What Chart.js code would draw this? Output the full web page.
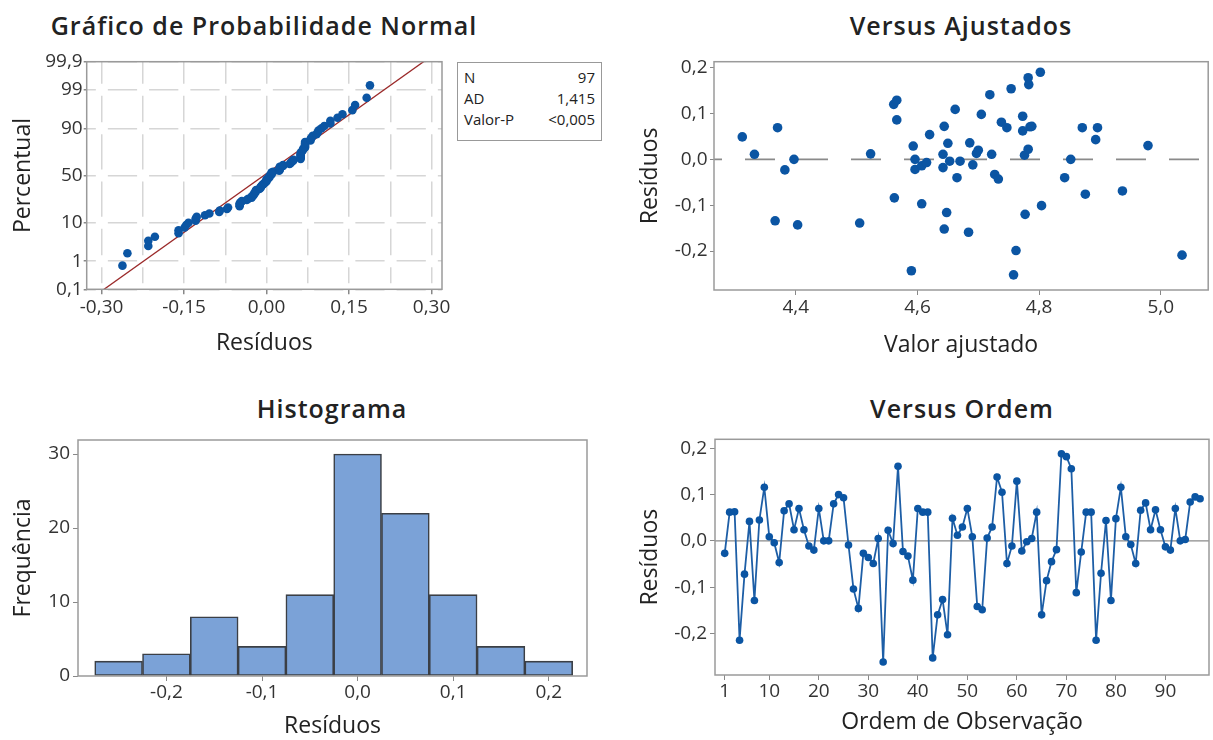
<!DOCTYPE html>
<html>
<head>
<meta charset="utf-8">
<script src="https://cdn.jsdelivr.net/npm/chart.js@4.4.1/dist/chart.umd.min.js"></script>
<style>
  body { margin: 0; background: #fff; width: 1213px; height: 740px; position: relative; overflow: hidden;
         font-family: 'Open Sans', 'Noto Sans', sans-serif; color: #222; }
  canvas { position: absolute; }
  .ttl { position: absolute; transform: translate(-50%, -50%); font-size: 25px; font-weight: 600;
         white-space: nowrap; letter-spacing: 1px; color: #222; }
  #stats { position: absolute; left: 457px; top: 62px; width: 131px; height: 70px; border: 1px solid #999;
           padding: 4px 6px 3px 6px; font-size: 15px; line-height: 21px; color: #222; }
  #stats div { display: flex; justify-content: space-between; }
</style>
</head>
<body>
<div class="ttl" style="left:264px;top:25px">Gráfico de Probabilidade Normal</div>
<div class="ttl" style="left:961px;top:25px">Versus Ajustados</div>
<div class="ttl" style="left:332px;top:408px">Histograma</div>
<div class="ttl" style="left:962px;top:408px">Versus Ordem</div>
<div id="stats"></div>

<canvas id="normChart" width="452" height="330" style="left:0;top:40px"></canvas>
<canvas id="fitChart" width="613" height="330" style="left:600px;top:40px"></canvas>
<canvas id="histChart" width="600" height="320" style="left:0;top:420px"></canvas>
<canvas id="orderChart" width="613" height="320" style="left:600px;top:420px"></canvas>

<script>
// residuals in observation order (Versus Ordem)
const orderResid = [
  -0.027, 0.062, 0.063, -0.215, -0.072, 0.042, -0.129, 0.045, 0.116, 0.009,
  -0.004, -0.047, 0.065, 0.080, 0.024, 0.070, 0.024, -0.011, -0.020, 0.070,
  0.000, 0.000, 0.080, 0.100, 0.093, -0.009, -0.104, -0.146, -0.027, -0.036,
  -0.049, 0.005, -0.262, 0.023, -0.006, 0.161, -0.023, -0.033, -0.085, 0.070,
  0.062, 0.062, -0.253, -0.160, -0.127, -0.203, 0.049, 0.012, 0.030, 0.070,
  0.009, -0.142, -0.149, 0.006, 0.030, 0.138, 0.105, -0.049, -0.011, 0.129,
  -0.022, -0.002, 0.005, 0.062, -0.160, -0.086, -0.045, -0.019, 0.188, 0.182,
  0.156, -0.112, -0.024, 0.062, 0.062, -0.215, -0.070, 0.044, -0.129, 0.048,
  0.116, 0.009, -0.008, -0.049, 0.066, 0.082, 0.024, 0.067, 0.024, -0.013,
  -0.020, 0.070, 0.000, 0.003, 0.084, 0.095, 0.091
];

// Versus Ajustados (fitted value, residual)
const fitValues = [
  4.312, 4.332, 4.370, 4.382, 4.397, 4.366, 4.403, 4.505, 4.523, 4.561,
  4.566, 4.566, 4.562, 4.590, 4.593, 4.596, 4.596, 4.607, 4.615, 4.607,
  4.620, 4.644, 4.642, 4.642, 4.648, 4.644, 4.650, 4.653, 4.662, 4.665,
  4.670, 4.686, 4.691, 4.697, 4.700, 4.684, 4.705, 4.719, 4.722, 4.727,
  4.733, 4.738, 4.747, 4.754, 4.758, 4.762, 4.773, 4.773, 4.776, 4.777,
  4.782, 4.783, 4.782, 4.785, 4.788, 4.802, 4.804, 4.842, 4.852, 4.871,
  4.876, 4.893, 4.896, 4.937, 4.979, 5.035
];
const fitResid = [
  0.049, 0.011, 0.069, -0.023, 0.000, -0.134, -0.143, -0.139, 0.012, 0.120,
  0.129, 0.086, -0.084, -0.243, 0.029, 0.000, -0.022, -0.014, -0.007, -0.097,
  0.054, 0.072, 0.011, -0.018, -0.116, -0.152, 0.035, -0.004, 0.109, -0.040,
  -0.004, 0.036, -0.012, 0.013, 0.020, -0.159, 0.098, 0.141, 0.011, -0.033,
  -0.043, 0.081, 0.069, 0.154, -0.252, -0.199, 0.094, 0.062, 0.009, -0.120,
  0.178, 0.163, 0.022, 0.071, 0.072, 0.190, -0.101, -0.040, 0.000, 0.069,
  -0.076, 0.043, 0.069, -0.069, 0.030, -0.209
];

// histogram bins
const histCenters = [-0.25, -0.20, -0.15, -0.10, -0.05, 0.00, 0.05, 0.10, 0.15, 0.20];
const histCounts = [2, 3, 8, 4, 11, 30, 22, 11, 4, 2];

// normal fit line and summary box
const fitMean = -0.005;
const fitStdDev = 0.094;
const statsRows = [['N', '97'], ['AD', '1,415'], ['Valor-P', '<0,005']];

// tick labels
const pctTicks = [0.1, 1, 10, 50, 90, 99, 99.9];
const normXTicks = [-0.30, -0.225, -0.15, -0.075, 0, 0.075, 0.15, 0.225, 0.30];
const fitXTicks = [4.4, 4.6, 4.8, 5.0];
const residTicks = [-0.2, -0.1, 0, 0.1, 0.2];
const histXTicks = [-0.2, -0.1, 0, 0.1, 0.2];
const histYTicks = [0, 10, 20, 30];
const orderTicks = [1, 10, 20, 30, 40, 50, 60, 70, 80, 90];

const FONT = "'Open Sans', 'Noto Sans', sans-serif";
const BLUE = '#0b55a3';
const tickFont = { family: FONT, size: 19 };
const titleFont = { family: FONT, size: 23 };

Chart.defaults.font.family = FONT;
Chart.defaults.color = '#333';

// inverse of the standard normal cdf (Acklam)
function normInv(p) {
  const a = [-3.969683028665376e+01, 2.209460984245205e+02, -2.759285104469687e+02, 1.383577518672690e+02, -3.066479806614716e+01, 2.506628277459239e+00];
  const b = [-5.447609879822406e+01, 1.615858368580409e+02, -1.556989798598866e+02, 6.680131188771972e+01, -1.328068155288572e+01];
  const c = [-7.784894002430293e-03, -3.223964580411365e-01, -2.400758277161838e+00, -2.549671010029264e+00, 4.374664141464968e+00, 2.938163982698783e+00];
  const d = [7.784695709041462e-03, 3.224671290700398e-01, 2.445134137142996e+00, 3.754408661907416e+00];
  const pl = 0.02425;
  let q, r;
  if (p < pl) {
    q = Math.sqrt(-2 * Math.log(p));
    return (((((c[0]*q+c[1])*q+c[2])*q+c[3])*q+c[4])*q+c[5]) / ((((d[0]*q+d[1])*q+d[2])*q+d[3])*q+1);
  }
  if (p > 1 - pl) {
    q = Math.sqrt(-2 * Math.log(1 - p));
    return -(((((c[0]*q+c[1])*q+c[2])*q+c[3])*q+c[4])*q+c[5]) / ((((d[0]*q+d[1])*q+d[2])*q+d[3])*q+1);
  }
  q = p - 0.5; r = q * q;
  return (((((a[0]*r+a[1])*r+a[2])*r+a[3])*r+a[4])*r+a[5])*q / (((((b[0]*r+b[1])*r+b[2])*r+b[3])*r+b[4])*r+1);
}

const comma = (v, d) => v.toFixed(d).replace('.', ',');
const fixW = w => s => { s.width = w; s.paddingTop = 0; s.paddingBottom = 0; };
const fixH = h => s => { s.height = h; s.paddingLeft = 0; s.paddingRight = 0; };
const setTicks = vals => s => { s.ticks = vals.map(v => ({ value: v })); };

// grey box round the plot area
const framePlugin = {
  id: 'frame',
  afterDraw(chart) {
    const { ctx, chartArea: a } = chart;
    ctx.save();
    ctx.strokeStyle = '#9a9a9a';
    ctx.lineWidth = 1.5;
    ctx.strokeRect(a.left, a.top, a.right - a.left, a.bottom - a.top);
    ctx.restore();
  }
};

const baseOptions = pad => ({
  responsive: false,
  animation: false,
  events: [],
  layout: { padding: pad },
  plugins: { legend: { display: false }, tooltip: { enabled: false } }
});

// flat tick labels, never rotated or skipped
const tickOpts = (pad, cb) => ({
  font: tickFont, color: '#333', padding: pad, maxRotation: 0, minRotation: 0, autoSkip: false, callback: cb
});

function axis(extra) {
  return Object.assign({
    type: 'linear',
    border: { display: false },
    grid: { drawOnChartArea: false, tickLength: 5, tickColor: '#888', tickWidth: 1 },
    ticks: tickOpts(3)
  }, extra);
}

document.getElementById('stats').innerHTML = statsRows
  .map(r => `<div><span>${r[0]}</span><span>${r[1]}</span></div>`).join('');

// ---- Normal probability plot ----
const zTicks = pctTicks.map(p => normInv(p / 100));
const zMin = normInv(0.001), zMax = normInv(0.999);
const sortedResid = orderResid.slice().sort((a, b) => a - b);
const nObs = sortedResid.length;
const probPoints = sortedResid.map((v, i) => ({ x: v, y: normInv((i + 1 - 0.3) / (nObs + 0.4)) }));
const fitLine = [-3.4, 3.4].map(z => ({ x: fitMean + z * fitStdDev, y: z }));

// dashes with a gap where each crossing grid line is
function gapDash(positions, start, gap) {
  const arr = [];
  let cur = 0;
  positions.slice().sort((a, b) => a - b).forEach(p => {
    const s = p - start - gap / 2;
    if (s > cur) { arr.push(s - cur, gap); cur = s + gap; }
  });
  arr.push(4000, 0);
  return arr;
}

new Chart(document.getElementById('normChart'), {
  type: 'scatter',
  data: {
    datasets: [
      { data: probPoints, pointRadius: 4.3, pointBackgroundColor: BLUE, pointBorderColor: BLUE, pointBorderWidth: 0 },
      { data: fitLine, showLine: true, pointRadius: 0, borderColor: '#9b2a2a', borderWidth: 1.3 }
    ]
  },
  options: Object.assign(baseOptions({ left: 9.2, top: 21.7, right: 10, bottom: 13.2 }), {
    scales: {
      x: axis({
        min: -0.327, max: 0.319,
        afterBuildTicks: setTicks(normXTicks),
        afterFit: fixH(67.5),
        grid: {
          drawOnChartArea: true, color: '#d6d6d6', lineWidth: 1.5, tickLength: 5,
          tickColor: c => (c.index % 2 === 0 ? '#888' : 'rgba(0,0,0,0)')
        },
        border: {
          display: false,
          dash: c => {
            const y = c.chart.scales.y;
            return gapDash(zTicks.map(z => y.getPixelForValue(z)), c.chart.chartArea.top, 12);
          }
        },
        ticks: tickOpts(2.3, (v, i) => (i % 2 === 0 ? comma(v, 2) : '')),
        title: { display: true, text: 'Resíduos', font: titleFont, color: '#222', padding: 0 }
      }),
      y: axis({
        min: zMin, max: zMax,
        afterBuildTicks: setTicks(zTicks),
        afterFit: fixW(77.5),
        grid: { drawOnChartArea: true, color: '#d6d6d6', lineWidth: 1.5, tickLength: 3, tickColor: '#888' },
        border: {
          display: false,
          dash: c => {
            const x = c.chart.scales.x;
            return gapDash(normXTicks.map(v => x.getPixelForValue(v)), c.chart.chartArea.left, 12);
          }
        },
        ticks: tickOpts(1, (v, i) => { const p = pctTicks[i]; return (p < 1 || p > 99) ? comma(p, 1) : String(p); }),
        title: { display: true, text: 'Percentual', font: titleFont, color: '#222', padding: 0 }
      })
    }
  }),
  plugins: [framePlugin]
});

// ---- Versus Ajustados ----
const fitXMin = 4.2655, fitXMax = 5.078;
new Chart(document.getElementById('fitChart'), {
  type: 'scatter',
  data: {
    datasets: [
      { data: fitValues.map((x, i) => ({ x: x, y: fitResid[i] })), pointRadius: 4.8,
        pointBackgroundColor: BLUE, pointBorderColor: BLUE, pointBorderWidth: 0 },
      { data: [{ x: fitXMin, y: 0 }, { x: fitXMax, y: 0 }], showLine: true, pointRadius: 0,
        borderColor: '#8a8a8a', borderWidth: 1.6, borderDash: [30, 23], borderDashOffset: 22 }
    ]
  },
  options: Object.assign(baseOptions({ left: 36.2, top: 21.7, right: 4, bottom: 11.2 }), {
    scales: {
      x: axis({
        min: fitXMin, max: fitXMax,
        afterBuildTicks: setTicks(fitXTicks),
        afterFit: fixH(68.8),
        ticks: tickOpts(1.6, v => comma(v, 1)),
        title: { display: true, text: 'Valor ajustado', font: titleFont, color: '#222', padding: 0 }
      }),
      y: axis({
        min: -0.285, max: 0.213,
        afterBuildTicks: setTicks(residTicks),
        afterFit: fixW(77.8),
        grid: { drawOnChartArea: false, tickLength: 4, tickColor: '#888' },
        ticks: tickOpts(2.5, v => comma(v, 1)),
        title: { display: true, text: 'Resíduos', font: titleFont, color: '#222', padding: 0 }
      })
    }
  }),
  plugins: [framePlugin]
});

// ---- Histograma ----
new Chart(document.getElementById('histChart'), {
  type: 'bar',
  data: {
    datasets: [{
      data: histCenters.map((c, i) => ({ x: c, y: histCounts[i] })),
      backgroundColor: '#7ba2d7', borderColor: '#3b3f45', borderWidth: 1.6, borderSkipped: false,
      barPercentage: 1, categoryPercentage: 1
    }]
  },
  options: Object.assign(baseOptions({ left: 9.2, top: 20, right: 13, bottom: 0 }), {
    scales: {
      x: axis({
        min: -0.2925, max: 0.240, offset: false,
        afterBuildTicks: setTicks(histXTicks),
        afterFit: fixH(64),
        grid: { drawOnChartArea: false, offset: false, tickLength: 5, tickColor: '#888' },
        ticks: tickOpts(0, v => comma(v, 1)),
        title: { display: true, text: 'Resíduos', font: titleFont, color: '#222', padding: 0 }
      }),
      y: axis({
        min: 0, max: 31.9,
        afterBuildTicks: setTicks(histYTicks),
        afterFit: fixW(68.8),
        ticks: tickOpts(3),
        title: { display: true, text: 'Frequência', font: titleFont, color: '#222', padding: 0 }
      })
    }
  }),
  plugins: [framePlugin]
});

// ---- Versus Ordem ----
const ordXMin = -0.96, ordXMax = 98.8;
new Chart(document.getElementById('orderChart'), {
  type: 'scatter',
  data: {
    datasets: [
      { data: orderResid.map((v, i) => ({ x: i + 1, y: v })), showLine: true, borderColor: '#1d5ea6',
        borderWidth: 1.8, pointRadius: 3.8, pointBackgroundColor: BLUE, pointBorderColor: BLUE, pointBorderWidth: 0 },
      { data: [{ x: ordXMin, y: 0 }, { x: ordXMax, y: 0 }], showLine: true, pointRadius: 0,
        borderColor: '#8a8a8a', borderWidth: 1.3 }
    ]
  },
  options: Object.assign(baseOptions({ left: 36.2, top: 19.3, right: 4, bottom: 4.2 }), {
    scales: {
      x: axis({
        min: ordXMin, max: ordXMax,
        afterBuildTicks: setTicks(orderTicks),
        afterFit: fixH(60.8),
        ticks: tickOpts(0),
        title: { display: true, text: 'Ordem de Observação', font: titleFont, color: '#222', padding: 0 }
      }),
      y: axis({
        min: -0.29, max: 0.2195,
        afterBuildTicks: setTicks(residTicks),
        afterFit: fixW(78.8),
        ticks: tickOpts(3, v => comma(v, 1)),
        title: { display: true, text: 'Resíduos', font: titleFont, color: '#222', padding: 0 }
      })
    }
  }),
  plugins: [framePlugin]
});
</script>
</body>
</html>
